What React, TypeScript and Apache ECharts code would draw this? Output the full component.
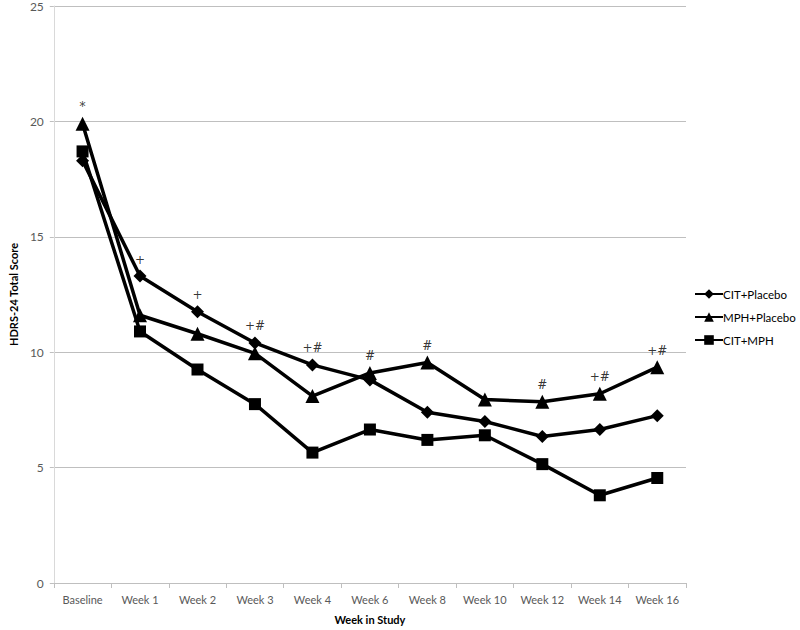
import React, { useEffect, useRef } from "react";
import * as echarts from "echarts";

const categories = ["Baseline", "Week 1", "Week 2", "Week 3", "Week 4", "Week 6", "Week 8", "Week 10", "Week 12", "Week 14", "Week 16"];
const citPlacebo = [18.3, 13.3, 11.75, 10.4, 9.45, 8.8, 7.4, 7.0, 6.35, 6.65, 7.25];
const mphPlacebo = [19.9, 11.6, 10.8, 9.95, 8.1, 9.1, 9.55, 7.95, 7.85, 8.2, 9.35];
const citMph = [18.7, 10.9, 9.25, 7.75, 5.65, 6.65, 6.2, 6.4, 5.15, 3.8, 4.55];
const annotations = ["*", "+", "+", "+#", "+#", "#", "#", "", "#", "+#", "+#"];
const yTicks = [0, 5, 10, 15, 20, 25];

const font = "Lato, 'Open Sans', sans-serif";

export default function App() {
  const ref = useRef<HTMLDivElement>(null);
  useEffect(() => {
    if (!ref.current) return;
    const chart = echarts.init(ref.current, null, { renderer: "svg" });
    const topVals = categories.map((_, i) => Math.max(citPlacebo[i], mphPlacebo[i], citMph[i]));
    const lineBase = {
      type: "line",
      lineStyle: { color: "#000", width: 3.5 },
      itemStyle: { color: "#000" },
      z: 3,
    };
    chart.setOption({
      animation: false,
      textStyle: { fontFamily: font },
      grid: { left: 40, right: 114, top: 4, bottom: 43, containLabel: false },
      legend: {
        data: ["CIT+Placebo", "MPH+Placebo", "CIT+MPH"],
        orient: "vertical",
        left: 694,
        top: 288,
        itemWidth: 28,
        itemHeight: 12,
        itemGap: 11,
        padding: 0,
        textStyle: { fontFamily: font, fontSize: 11.5, color: "#000", padding: [0, 0, 0, -5] },
      },
      xAxis: {
        type: "category",
        data: categories,
        boundaryGap: true,
        name: "Week in Study",
        nameLocation: "middle",
        nameGap: 31,
        nameTextStyle: { fontFamily: font, fontWeight: "bold", fontSize: 11, color: "#000" },
        axisLine: { lineStyle: { color: "#bfbfbf", width: 1 } },
        axisTick: { show: true, alignWithLabel: false, length: 5, lineStyle: { color: "#bfbfbf" } },
        axisLabel: { fontFamily: font, fontSize: 11, color: "#595959", margin: 11 },
      },
      yAxis: {
        type: "value",
        min: yTicks[0],
        max: yTicks[yTicks.length - 1],
        interval: 5,
        name: "HDRS-24 Total Score",
        nameLocation: "middle",
        nameGap: 31,
        nameTextStyle: { fontFamily: font, fontWeight: "bold", fontSize: 11, color: "#000" },
        axisLine: { show: true, lineStyle: { color: "#d9d9d9", width: 1 } },
        axisTick: { show: true, length: 4, lineStyle: { color: "#bfbfbf" } },
        axisLabel: { fontFamily: font, fontSize: 12, color: "#595959", margin: 10 },
        splitLine: { lineStyle: { color: "#bfbfbf", width: 1 } },
      },
      series: [
        { ...lineBase, name: "CIT+Placebo", data: citPlacebo, symbol: "diamond", symbolSize: 13 },
        { ...lineBase, name: "MPH+Placebo", data: mphPlacebo, symbol: "triangle", symbolSize: 14 },
        { ...lineBase, name: "CIT+MPH", data: citMph, symbol: "rect", symbolSize: 12 },
        {
          name: "annot",
          type: "scatter",
          data: topVals.map((v, i) => [i, v]),
          symbolSize: 1,
          itemStyle: { color: "rgba(0,0,0,0)" },
          silent: true,
          z: 5,
          label: {
            show: true,
            position: "top",
            distance: 10,
            formatter: (p: any) => annotations[p.dataIndex],
            fontFamily: "'DejaVu Serif', serif",
            fontSize: 12,
            color: "#000",
            textBorderWidth: 0,
            textBorderColor: "rgba(0,0,0,0)",
          },
        },
      ],
    });
    return () => chart.dispose();
  }, []);
  return <div ref={ref} style={{ width: 800, height: 630, position: "absolute", left: 0, top: 0, background: "#fff" }} />;
}
